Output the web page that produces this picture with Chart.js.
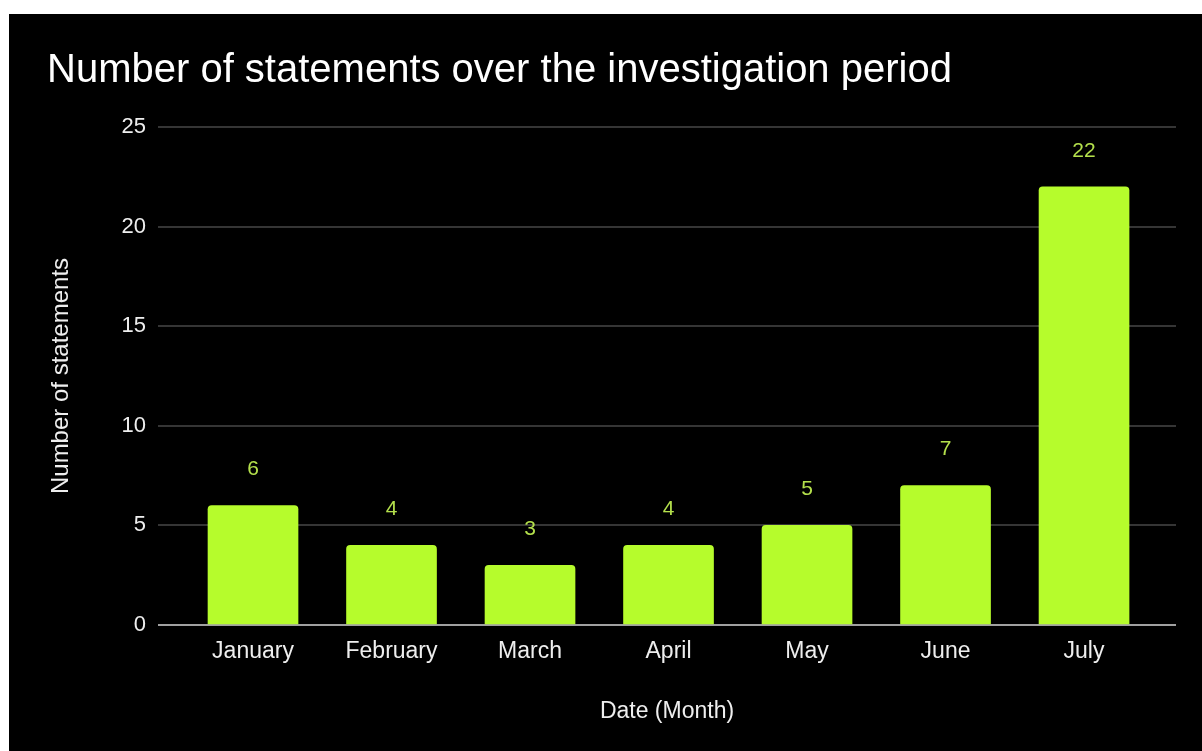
<!DOCTYPE html>
<html>
<head>
<meta charset="utf-8">
<script src="https://cdn.jsdelivr.net/npm/chart.js@4/dist/chart.umd.min.js"></script>
<style>
  html, body { margin: 0; padding: 0; background: #ffffff; overflow: hidden; }
  #wrap { position: absolute; left: 9px; top: 14px; width: 1193px; height: 737px; background: #000000; }
  canvas { display: block; }
</style>
</head>
<body>
<div id="wrap"><canvas id="c" width="1193" height="737"></canvas></div>
<script>
const months = ["January", "February", "March", "April", "May", "June", "July"];
const statements = [6, 4, 3, 4, 5, 7, 22];
const yTicks = [0, 5, 10, 15, 20, 25];

const FONT = "'Liberation Sans', Arial, Helvetica, sans-serif";

const valueLabels = {
  id: 'valueLabels',
  afterDatasetsDraw(chart) {
    const ctx = chart.ctx;
    const meta = chart.getDatasetMeta(0);
    ctx.save();
    ctx.font = "21px " + FONT;
    ctx.fillStyle = '#b4e04c';
    ctx.textAlign = 'center';
    ctx.textBaseline = 'middle';
    meta.data.forEach((bar, i) => {
      ctx.fillText(String(statements[i]), bar.x, bar.y - 36);
    });
    ctx.restore();
  }
};

new Chart(document.getElementById('c'), {
  type: 'bar',
  data: {
    datasets: [{
      data: statements.map((v, i) => ({ x: i, y: v })),
      backgroundColor: '#b6fc2c',
      borderWidth: 0,
      borderRadius: { topLeft: 4, topRight: 4, bottomLeft: 0, bottomRight: 0 },
      borderSkipped: 'bottom',
      barThickness: 90
    }]
  },
  options: {
    responsive: false,
    animation: false,
    devicePixelRatio: 1,
    layout: { padding: { left: 38, right: 26, top: 0, bottom: 0 } },
    plugins: {
      legend: { display: false },
      tooltip: { enabled: false },
      title: {
        display: true,
        text: 'Number of statements over the investigation period',
        align: 'start',
        color: '#ffffff',
        font: { family: FONT, size: 40, weight: 'normal' },
        padding: { top: 33, bottom: 32 }
      }
    },
    scales: {
      x: {
        type: 'linear',
        min: -0.686,
        max: 6.664,
        offset: false,
        grid: { display: false, drawTicks: false },
        border: { display: false },
        afterBuildTicks: (s) => { s.ticks = months.map((m, i) => ({ value: i })); },
        afterFit: (s) => { s.height = 126; },
        ticks: {
          autoSkip: false,
          maxRotation: 0,
          padding: 13,
          color: '#eeeeee',
          font: { family: FONT, size: 23 },
          callback: (v) => months[v]
        },
        title: {
          display: true,
          text: 'Date (Month)',
          color: '#eeeeee',
          font: { family: FONT, size: 23 },
          padding: { top: 0, bottom: 26 }
        }
      },
      y: {
        min: 0,
        max: 25,
        afterBuildTicks: (s) => { s.ticks = yTicks.map(v => ({ value: v })); },
        afterFit: (s) => { s.width = 111; },
        grid: {
          drawTicks: false,
          color: (c) => (c.tick && c.tick.value === 0) ? '#a0a0a0' : '#353535',
          lineWidth: 2
        },
        border: { display: false },
        ticks: {
          padding: 12,
          color: '#eeeeee',
          font: { family: FONT, size: 22 }
        },
        title: {
          display: true,
          text: 'Number of statements',
          color: '#eeeeee',
          font: { family: FONT, size: 24 },
          padding: { top: 0, bottom: 0 }
        }
      }
    }
  },
  plugins: [valueLabels]
});
</script>
</body>
</html>
